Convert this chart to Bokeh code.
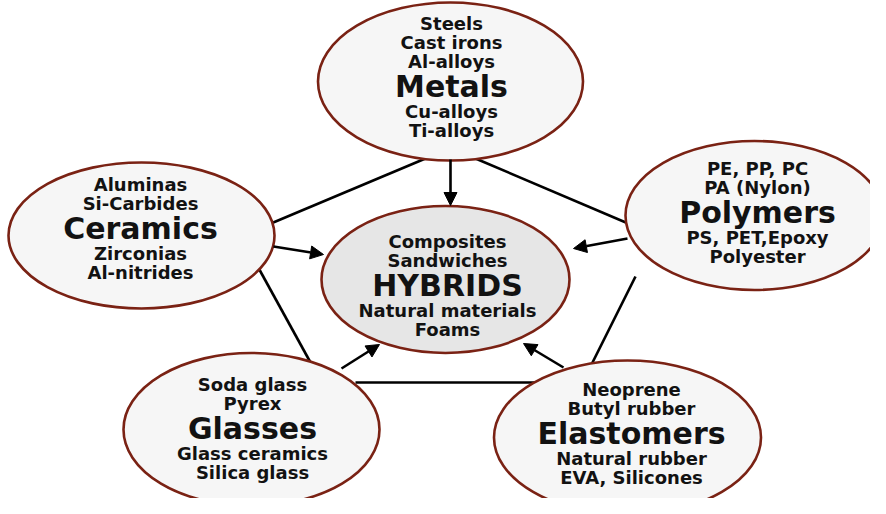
from bokeh.plotting import figure
from bokeh.models import Range1d, ColumnDataSource, Arrow, NormalHead
from bokeh.core.properties import value
from bokeh.embed import file_html
from bokeh.resources import INLINE

# ---- data -------------------------------------------------------------
families = ["Metals", "Ceramics", "Polymers", "HYBRIDS", "Glasses", "Elastomers"]
members = {
    "Metals": (["Steels", "Cast irons", "Al-alloys"], ["Cu-alloys", "Ti-alloys"]),
    "Ceramics": (["Aluminas", "Si-Carbides"], ["Zirconias", "Al-nitrides"]),
    "Polymers": (["PE, PP, PC", "PA (Nylon)"], ["PS, PET,Epoxy", "Polyester"]),
    "HYBRIDS": (["Composites", "Sandwiches"], ["Natural materials", "Foams"]),
    "Glasses": (["Soda glass", "Pyrex"], ["Glass ceramics", "Silica glass"]),
    "Elastomers": (["Neoprene", "Butyl rubber"], ["Natural rubber", "EVA, Silicones"]),
}
# pentagon links between outer families and arrows into HYBRIDS
links = [("Ceramics", "Metals"), ("Metals", "Polymers"), ("Ceramics", "Glasses"),
         ("Polymers", "Elastomers"), ("Glasses", "Elastomers")]
arrows_into_hybrids = ["Metals", "Ceramics", "Polymers", "Glasses", "Elastomers"]

# ---- layout (pixel-like coordinates, y downwards) ---------------------
node_x = [450, 141, 754, 445, 251, 627]
node_y = [81, 235, 215, 279, 429, 437]
node_w = [265, 266, 258, 248, 256, 267]
node_h = [158, 146, 149, 147, 153, 154]
text_x = [451, 140, 757, 447, 252, 631]
title_y = [86, 228, 212, 285, 428, 433]

link_pts = {
    ("Ceramics", "Metals"): (268, 224, 425, 158),
    ("Metals", "Polymers"): (475, 158, 630, 224),
    ("Ceramics", "Glasses"): (255, 262, 310, 362),
    ("Polymers", "Elastomers"): (635, 276, 588, 370),
    ("Glasses", "Elastomers"): (355, 382, 540, 382),
}
arrow_pts = {
    "Metals": (450, 159, 450, 205),
    "Ceramics": (273, 246, 323, 254),
    "Polymers": (627, 238, 573, 248),
    "Glasses": (341, 368, 379, 344),
    "Elastomers": (563, 367, 523, 343),
}

W, H = 870, 498
p = figure(width=W, height=H, output_backend="svg", toolbar_location=None,
           x_range=Range1d(0, W), y_range=Range1d(H, 0),
           min_border=0, outline_line_color=None)
p.axis.visible = False
p.grid.visible = False
p.background_fill_color = "white"
p.border_fill_color = "white"

# links
for a, b in links:
    x0, y0, x1, y1 = link_pts[(a, b)]
    p.line([x0, x1], [y0, y1], line_color="black", line_width=2.6)

# ellipses
fills = ["#f6f6f6" if f != "HYBRIDS" else "#e6e6e6" for f in families]
src = ColumnDataSource(dict(x=node_x, y=node_y, w=node_w, h=node_h, fill=fills))
p.ellipse(x="x", y="y", width="w", height="h", source=src, fill_color="fill",
          line_color="#7a2214", line_width=2.6)

# arrows
for f in arrows_into_hybrids:
    x0, y0, x1, y1 = arrow_pts[f]
    p.add_layout(Arrow(x_start=x0, y_start=y0, x_end=x1, y_end=y1,
                       line_color="black", line_width=2.6,
                       end=NormalHead(size=13, fill_color="black", line_color="black",
                                      line_width=1)))

# texts
FONT = value("DejaVu Sans")
sm_x, sm_y, sm_t = [], [], []
for i, f in enumerate(families):
    above, below = members[f]
    n = len(above)
    for k, t in enumerate(above):
        sm_x.append(text_x[i]); sm_y.append(title_y[i] - 25 - 19 * (n - 1 - k)); sm_t.append(t)
    for k, t in enumerate(below):
        sm_x.append(text_x[i]); sm_y.append(title_y[i] + 25 + 19 * k); sm_t.append(t)

p.text(x=sm_x, y=sm_y, text=sm_t, text_font=FONT, text_font_style="bold",
       text_font_size="18px", text_align="center", text_baseline="middle",
       text_color="#121212")
p.text(x=text_x, y=title_y, text=families, text_font=FONT, text_font_style="bold",
       text_font_size="30px", text_align="center", text_baseline="middle",
       text_color="#121212")

open("out.html", "w").write(file_html(p, INLINE))
